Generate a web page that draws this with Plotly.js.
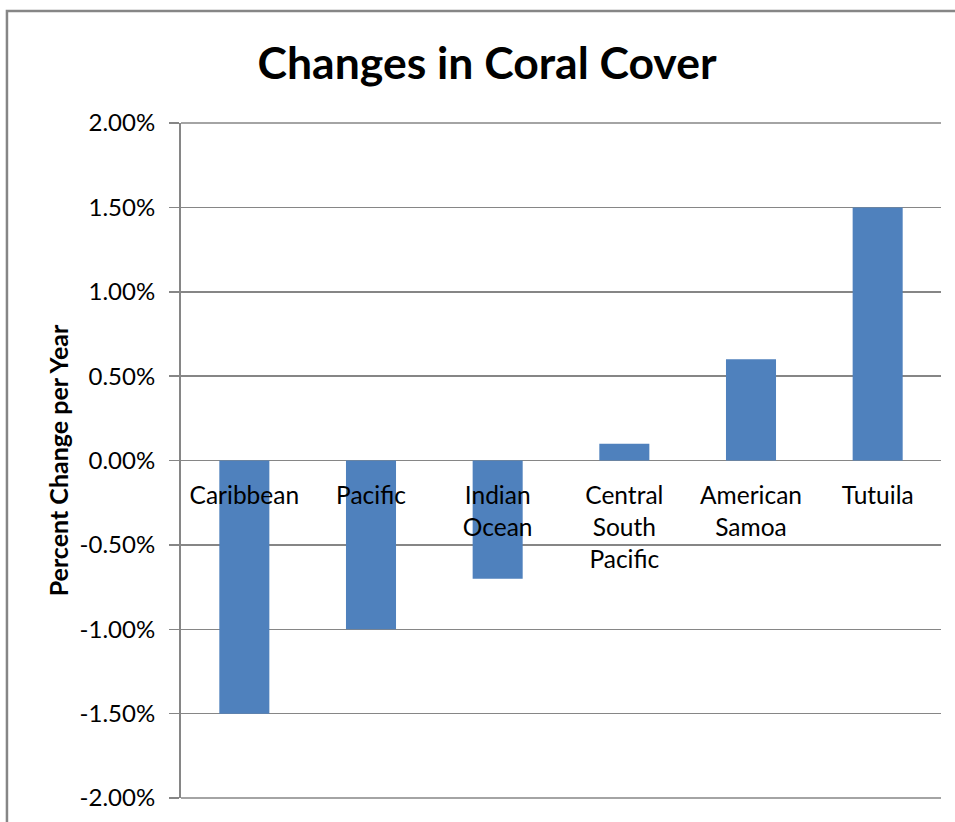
<!DOCTYPE html>
<html>
<head>
<meta charset="utf-8">
<script src="https://cdn.plot.ly/plotly-3.0.1.min.js"></script>
<style>html,body{margin:0;padding:0;background:#fff;}#chart{width:955px;height:822px;}</style>
</head>
<body>
<div id="chart"></div>
<script>
const categories = ["Caribbean", "Pacific", "Indian<br>Ocean", "Central<br>South<br>Pacific", "American<br>Samoa", "Tutuila"];
const changePerYear = [-0.015, -0.010, -0.007, 0.001, 0.006, 0.015];
const yTickVals = [-0.02, -0.015, -0.01, -0.005, 0, 0.005, 0.01, 0.015, 0.02];
const yTickText = ["-2.00%", "-1.50%", "-1.00%", "-0.50%", "0.00%", "0.50%", "1.00%", "1.50%", "2.00%"];

const grey = "#868686";
const trace = {
  type: "bar",
  x: categories,
  y: changePerYear,
  marker: {color: "#4F81BD"},
  hoverinfo: "skip"
};
const layout = {
  width: 955, height: 822,
  paper_bgcolor: "#fff", plot_bgcolor: "#fff",
  margin: {l: 181, r: 14, t: 123, b: 24, pad: 0},
  font: {family: "Lato, 'Open Sans', sans-serif", color: "#000", size: 24},
  showlegend: false,
  bargap: 0.605,
  title: {text: "<b>Changes in Coral Cover</b>", x: 0.51, xanchor: "center", y: 0.923, yanchor: "middle",
          font: {family: "Lato, sans-serif", size: 44.5, color: "#000"}},
  xaxis: {
    type: "category",
    anchor: "free", position: 0.5,
    showgrid: false, zeroline: false, showline: false,
    ticks: "", ticklabelstandoff: 18,
    tickfont: {size: 24.5, color: "#000"},
    fixedrange: true
  },
  yaxis: {
    range: [-0.02, 0.02],
    tickvals: yTickVals, ticktext: yTickText,
    showgrid: true, gridcolor: grey, gridwidth: 1.5,
    zeroline: true, zerolinecolor: grey, zerolinewidth: 1.5,
    showline: true, linecolor: grey, linewidth: 2,
    ticks: "outside", ticklen: 10, tickcolor: grey, tickwidth: 1.5,
    ticklabelstandoff: 9,
    tickfont: {size: 24, color: "#000"},
    title: {text: "<b>Percent Change per Year</b>", standoff: 4, font: {size: 25, color: "#000"}},
    fixedrange: true
  },
  shapes: [
    {type: "line", xref: "paper", yref: "paper", x0: 0, x1: 1, y0: 1, y1: 1, line: {color: grey, width: 1.5}},
    {type: "line", xref: "paper", yref: "paper", x0: 0, x1: 1, y0: 0, y1: 0, line: {color: grey, width: 1.5}},
    {type: "rect", xref: "paper", yref: "paper", x0: -0.229, x1: 1.2, y0: -0.3, y1: 1.166, line: {color: grey, width: 2.5}, layer: "below"}
  ]
};
Plotly.newPlot("chart", [trace], layout, {displayModeBar: false, staticPlot: true});
</script>
</body>
</html>
